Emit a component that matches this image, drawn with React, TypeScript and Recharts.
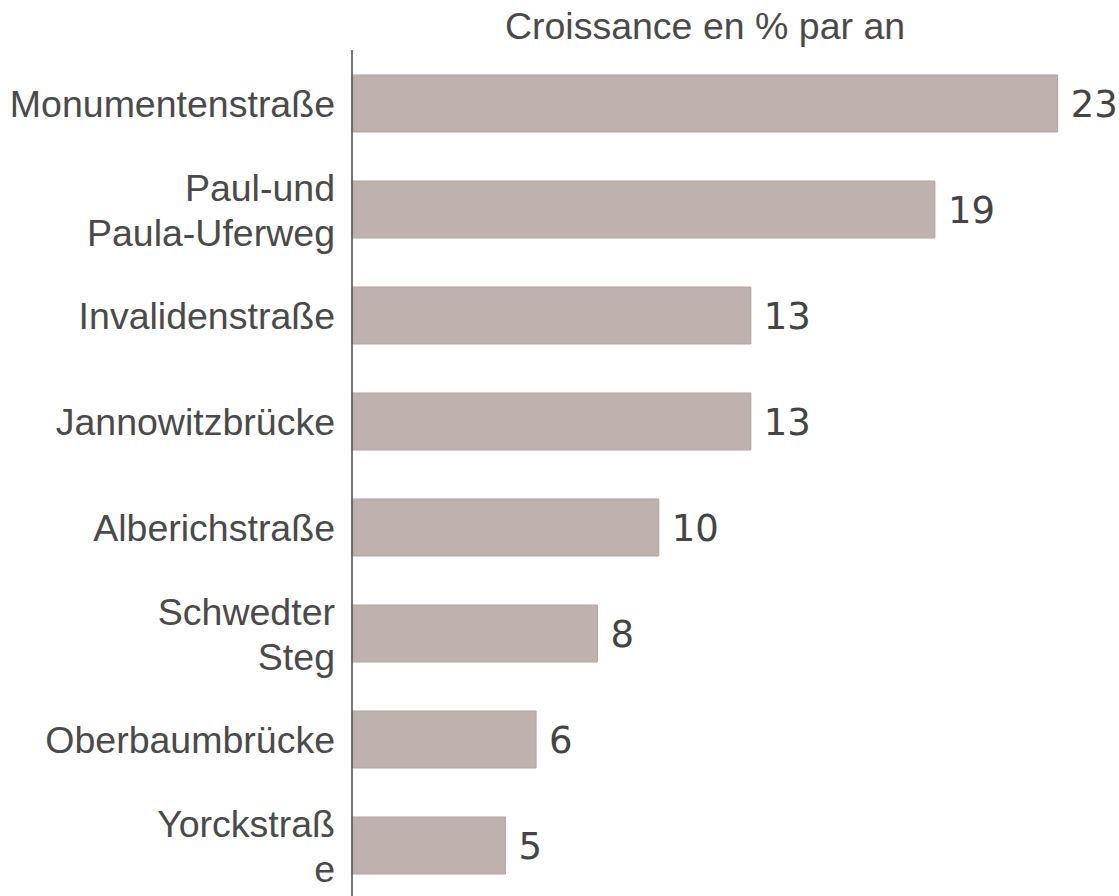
import React from 'react';
import { BarChart, Bar, XAxis, YAxis, LabelList } from 'recharts';

const categories = [
  'Monumentenstraße',
  'Paul-und\nPaula-Uferweg',
  'Invalidenstraße',
  'Jannowitzbrücke',
  'Alberichstraße',
  'Schwedter\nSteg',
  'Oberbaumbrücke',
  'Yorckstraß\ne',
];
const growth = [23, 19, 13, 13, 10, 8, 6, 5];
const title = 'Croissance en % par an';

const data = categories.map((c, i) => ({ name: c, value: growth[i] }));

const TEXT = '#4a4a4a';

const CategoryTick = (props: any) => {
  const { x, y, payload } = props;
  const lines = String(payload.value).split('\n');
  const lh = 45;
  const start = y + 14 - ((lines.length - 1) * lh) / 2;
  return (
    <g>
      {lines.map((l, i) => (
        <text
          key={i}
          x={x}
          y={start + i * lh}
          textAnchor="end"
          fill={TEXT}
          style={{ fontFamily: '"Liberation Sans", Arial, sans-serif', fontSize: 37.5 }}
        >
          {l}
        </text>
      ))}
    </g>
  );
};

export default function App() {
  return (
    <div style={{ position: 'absolute', left: 0, top: 0, width: 1119, height: 896, overflow: 'hidden', background: '#fff' }}>
      <div
        style={{
          position: 'absolute',
          left: 352,
          width: 706,
          top: 3,
          textAlign: 'center',
          fontFamily: '"Liberation Sans", Arial, sans-serif',
          fontSize: 37.5,
          color: TEXT,
          lineHeight: '46px',
        }}
      >
        {title}
      </div>
      <BarChart
        width={1119}
        height={900}
        data={data}
        layout="vertical"
        margin={{ top: 50, right: 0, bottom: 2, left: 0 }}
        barSize={57}
      >
        <XAxis type="number" domain={[0, 25]} hide />
        <YAxis
          type="category"
          dataKey="name"
          width={352}
          axisLine={{ stroke: '#555', strokeWidth: 1.6 }}
          tickLine={false}
          tickSize={0}
          tickMargin={17}
          tick={<CategoryTick />}
          interval={0}
        />
        <Bar dataKey="value" fill="#bfb1ae" stroke="#b2a4a1" strokeWidth={1} isAnimationActive={false}>
          <LabelList
            dataKey="value"
            position="right"
            offset={13}
            fill="#444"
            style={{ fontFamily: '"DejaVu Sans", sans-serif', fontSize: 37 }}
          />
        </Bar>
      </BarChart>
    </div>
  );
}
